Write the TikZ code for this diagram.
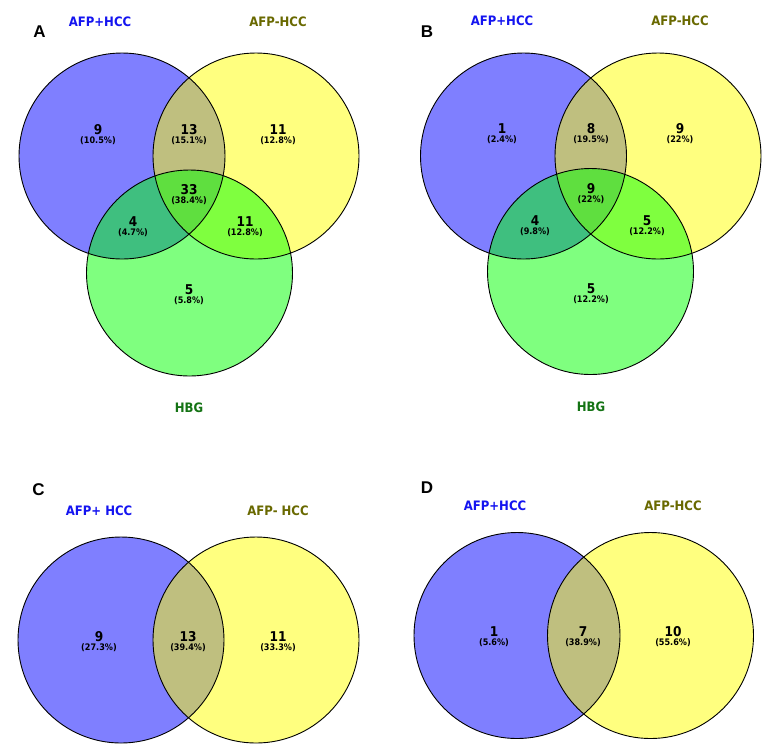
\documentclass[tikz,border=0pt]{standalone}
\usepackage{fontspec}
\setmainfont{DejaVu Sans}
\newfontfamily\vfont[FakeStretch=0.9]{DejaVu Sans}
\newfontfamily\letterfont{Liberation Sans}
\definecolor{vblue}{RGB}{0,0,255}
\definecolor{vyellow}{RGB}{255,255,0}
\definecolor{vgreen}{RGB}{0,255,0}
\definecolor{lblblue}{RGB}{20,20,240}
\definecolor{lblolive}{RGB}{105,105,0}
\definecolor{lblgreen}{RGB}{20,115,20}
\tikzset{
  setfill/.style={circle, minimum size=206pt, inner sep=0pt, fill opacity=0.5},
  ring/.style={draw=black, line width=0.9pt},
  numst/.style={inner sep=0pt, font=\vfont\bfseries\fontsize{13.5}{13.5}\selectfont},
  pctst/.style={inner sep=0pt, font=\vfont\bfseries\fontsize{9}{9}\selectfont},
  setlbl/.style={inner sep=0pt, font=\vfont\bfseries\fontsize{13}{13}\selectfont},
  panel/.style={inner sep=0pt, font=\letterfont\bfseries\fontsize{17}{17}\selectfont}
}
\begin{document}
\begin{tikzpicture}[x=1pt,y=-1pt]
\useasboundingbox (0,0) rectangle (765,748);
\fill[white] (0,0) rectangle (765,748);
% ---------- Panel A ----------
\node[setfill, fill=vblue] (Ab) at (122,156) {};
\node[setfill, fill=vyellow] (Ay) at (256,156) {};
\node[setfill, fill=vgreen] (Ag) at (189.5,273) {};
\draw[ring] (Ab.center) circle[radius=103];
\draw[ring] (Ay.center) circle[radius=103];
\draw[ring] (Ag.center) circle[radius=103];
\node[panel] (Alet) at (39.5,32) {A};
\node[setlbl, text=lblblue] (Al1) at (100,22) {AFP+HCC};
\node[setlbl, text=lblolive] (Al2) at (278,22) {AFP-HCC};
\node[setlbl, text=lblgreen] (Al3) at (189,408) {HBG};
\node[numst] (An1) at (98,130) {9};    \node[pctst] (Ap1) at (98,141) {(10.5\%)};
\node[numst] (An2) at (189,130) {13};  \node[pctst] (Ap2) at (189,141) {(15.1\%)};
\node[numst] (An3) at (278,130) {11};  \node[pctst] (Ap3) at (278,141) {(12.8\%)};
\node[numst] (An4) at (189,190) {33};  \node[pctst] (Ap4) at (189,201) {(38.4\%)};
\node[numst] (An5) at (133,222) {4};   \node[pctst] (Ap5) at (133,233) {(4.7\%)};
\node[numst] (An6) at (245,222) {11};  \node[pctst] (Ap6) at (245,233) {(12.8\%)};
\node[numst] (An7) at (189,290) {5};   \node[pctst] (Ap7) at (189,301) {(5.8\%)};
% ---------- Panel B ----------
\node[setfill, fill=vblue] (Bb) at (523.5,156) {};
\node[setfill, fill=vyellow] (By) at (658,156) {};
\node[setfill, fill=vgreen] (Bg) at (590.5,271.5) {};
\draw[ring] (Bb.center) circle[radius=103];
\draw[ring] (By.center) circle[radius=103];
\draw[ring] (Bg.center) circle[radius=103];
\node[panel] (Blet) at (427,32) {B};
\node[setlbl, text=lblblue] (Bl1) at (502,21) {AFP+HCC};
\node[setlbl, text=lblolive] (Bl2) at (680,21) {AFP-HCC};
\node[setlbl, text=lblgreen] (Bl3) at (591,407) {HBG};
\node[numst] (Bn1) at (502,129) {1};   \node[pctst] (Bp1) at (502,140) {(2.4\%)};
\node[numst] (Bn2) at (591,129) {8};   \node[pctst] (Bp2) at (591,140) {(19.5\%)};
\node[numst] (Bn3) at (680,129) {9};   \node[pctst] (Bp3) at (680,140) {(22\%)};
\node[numst] (Bn4) at (591,189) {9};   \node[pctst] (Bp4) at (591,200) {(22\%)};
\node[numst] (Bn5) at (535,221) {4};   \node[pctst] (Bp5) at (535,232) {(9.8\%)};
\node[numst] (Bn6) at (647,221) {5};   \node[pctst] (Bp6) at (647,232) {(12.2\%)};
\node[numst] (Bn7) at (591,289) {5};   \node[pctst] (Bp7) at (591,300) {(12.2\%)};
% ---------- Panel C ----------
\node[setfill, fill=vblue] (Cb) at (121,640) {};
\node[setfill, fill=vyellow] (Cy) at (256,640) {};
\draw[ring] (Cb.center) circle[radius=103];
\draw[ring] (Cy.center) circle[radius=103];
\node[panel] (Clet) at (38.5,490) {C};
\node[setlbl, text=lblblue] (Cl1) at (99,511) {AFP+ HCC};
\node[setlbl, text=lblolive] (Cl2) at (278,511) {AFP- HCC};
\node[numst] (Cn1) at (99,637) {9};    \node[pctst] (Cp1) at (99,648) {(27.3\%)};
\node[numst] (Cn2) at (188,637) {13};  \node[pctst] (Cp2) at (188,648) {(39.4\%)};
\node[numst] (Cn3) at (278,637) {11};  \node[pctst] (Cp3) at (278,648) {(33.3\%)};
% ---------- Panel D ----------
\node[setfill, fill=vblue] (Db) at (517,635.5) {};
\node[setfill, fill=vyellow] (Dy) at (650.5,635.5) {};
\draw[ring] (Db.center) circle[radius=103];
\draw[ring] (Dy.center) circle[radius=103];
\node[panel] (Dlet) at (427,488) {D};
\node[setlbl, text=lblblue] (Dl1) at (495,506) {AFP+HCC};
\node[setlbl, text=lblolive] (Dl2) at (673,506) {AFP-HCC};
\node[numst] (Dn1) at (494,632) {1};   \node[pctst] (Dp1) at (494,643) {(5.6\%)};
\node[numst] (Dn2) at (583,632) {7};   \node[pctst] (Dp2) at (583,643) {(38.9\%)};
\node[numst] (Dn3) at (673,632) {10};  \node[pctst] (Dp3) at (673,643) {(55.6\%)};
\end{tikzpicture}
\end{document}
